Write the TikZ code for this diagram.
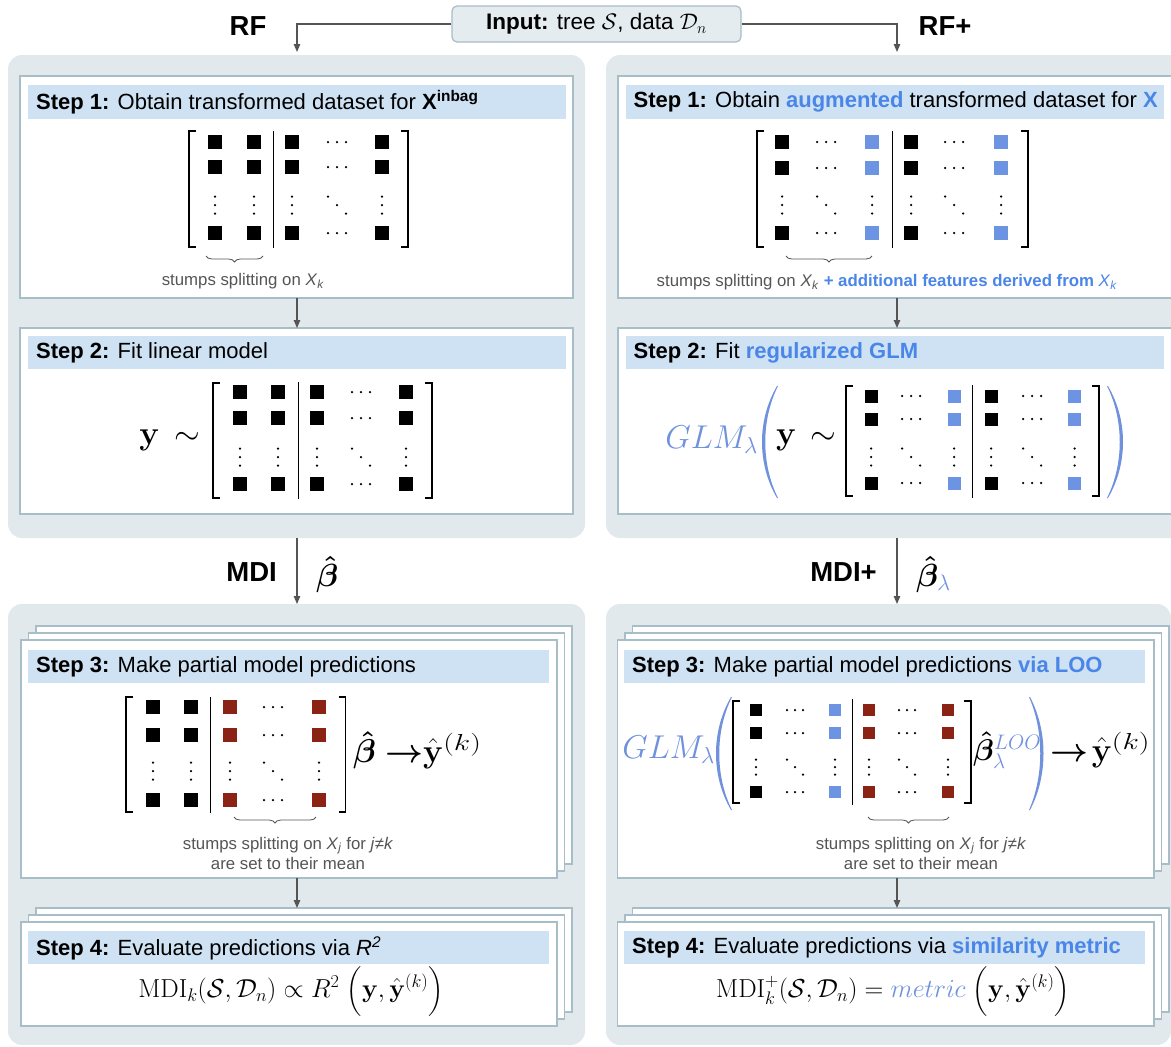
\RequirePackage{fix-cm}
\documentclass[tikz,border=0pt]{standalone}
\usepackage{amsmath,bm,graphicx}
\usepackage[no-math]{fontspec}
\setmainfont{Liberation Sans}
\usetikzlibrary{arrows.meta,decorations.pathreplacing}
\definecolor{panelc}{HTML}{E2E9ED}
\definecolor{boxc}{HTML}{A7BDC7}
\definecolor{hdrc}{HTML}{CFE2F3}
\definecolor{hl}{HTML}{4A86E8}
\definecolor{mathblue}{HTML}{7091DC}
\definecolor{sqblue}{HTML}{6D94E3}
\definecolor{sqred}{HTML}{8B2314}
\definecolor{arrc}{HTML}{555555}
\definecolor{graytext}{HTML}{555555}
\definecolor{inboxc}{HTML}{E4ECF0}
\newcommand\hsq{7}
\newcommand\hsp{9}
\newcommand\vsp{8.5}
\newcommand\drad{1.25pt}
\newcommand\msq[3]{\fill[#3] (#1-\hsq,#2-\hsq) rectangle (#1+\hsq,#2+\hsq);}
\newcommand\hdts[2]{\fill (#1-\hsp,#2) circle[radius=\drad] (#1,#2) circle[radius=\drad] (#1+\hsp,#2) circle[radius=\drad];}
\newcommand\vdts[2]{\fill (#1,#2-\vsp) circle[radius=\drad] (#1,#2) circle[radius=\drad] (#1,#2+\vsp) circle[radius=\drad];}
\newcommand\ddts[2]{\fill (#1-\hsp,#2-\vsp) circle[radius=\drad] (#1,#2) circle[radius=\drad] (#1+\hsp,#2+\vsp) circle[radius=\drad];}
\newcommand\sqcol[6]{\msq{#1}{#3}{#2}\msq{#1}{#4}{#2}\vdts{#1}{#5}\msq{#1}{#6}{#2}}
\newcommand\dtcol[5]{\hdts{#1}{#2}\hdts{#1}{#3}\ddts{#1}{#4}\hdts{#1}{#5}}
\newcommand\brkt[4]{\draw[brk] (#1+7,#3) -- (#1,#3) -- (#1,#4) -- (#1+7,#4); \draw[brk] (#2-7,#3) -- (#2,#3) -- (#2,#4) -- (#2-7,#4);}
\newcommand\dvd[3]{\draw[dvd] (#1,#2) -- (#1,#3);}
\newcommand\pOpen{\mathopen{\hbox{\fontsize{21}{25}\selectfont$\bigg($}}}
\newcommand\pClose{\mathclose{\hbox{\fontsize{21}{25}\selectfont$\bigg)$}}}
\newcommand\supk{^{\scalebox{1.3}[1]{$\scriptstyle(k)$}}}
\begin{document}
\begin{tikzpicture}[x=1pt,y=-1pt,
  panel/.style={fill=panelc, draw=none, rounded corners=14pt, inner sep=0pt, outer sep=0pt},
  wbox/.style={fill=white, draw=boxc, line width=1.4pt, inner sep=0pt, outer sep=0pt},
  hdr/.style={fill=hdrc, draw=none, inner sep=0pt, outer sep=0pt, anchor=north west},
  htext/.style={anchor=west, inner sep=0pt, font=\fontsize{22}{26}\selectfont},
  note/.style={inner sep=0pt, text=graytext, align=center, font=\fontsize{16.8}{20}\selectfont},
  lbl/.style={inner sep=0pt, font=\bfseries\fontsize{27.5}{30}\selectfont},
  mth/.style={inner sep=0pt, font=\fontsize{33}{37}\selectfont},
  arr/.style={draw=arrc, line width=1.3pt, -{Triangle[length=8pt,width=6.5pt]}},
  brk/.style={line width=1.3pt, black},
  dvd/.style={line width=1pt, black},
  brc/.style={draw=graytext, line width=0.8pt, decorate, decoration={brace,mirror,amplitude=6pt}},
  inbox/.style={fill=inboxc, draw=boxc, line width=1.2pt, rounded corners=5pt, inner sep=0pt, font=\fontsize{22.5}{26}\selectfont}]
\useasboundingbox (0,0) rectangle (1171,1047);
\fill[white] (0,0) rectangle (1171,1047);
\clip (0,0) rectangle (1171,1047);
\coordinate (cL) at (297,0);
\coordinate (cR) at (897,0);
% input
\node[inbox, minimum width=289pt, minimum height=36pt] (in) at (596.5,24) {\textbf{Input:} tree $\mathcal{S}$, data $\mathcal{D}_n$};
\node[lbl] (rf) at (248,26) {RF};
\node[lbl] (rfp) at (945,26) {RF+};
% panels
\node[panel, minimum width=577pt, minimum height=483pt] (pTL) at (296.5,296.5) {};
\node[panel, minimum width=594pt, minimum height=483pt] (pTR) at (903,296.5) {};
\node[panel, minimum width=577pt, minimum height=441pt] (pBL) at (296.5,824.5) {};
\node[panel, minimum width=565pt, minimum height=441pt] (pBR) at (888.5,824.5) {};
% ---------- left top
\node[wbox, minimum width=553pt, minimum height=222pt] (s1L) at (296.5,187) {};
\node[hdr, minimum width=538pt, minimum height=34pt] (h1L) at (28,85) {};
\node[htext] (t1L) at (36,102) {\textbf{Step 1:} Obtain transformed dataset for \textbf{X\textsuperscript{inbag}}};
\sqcol{215}{black}{142}{167}{205}{233}
\sqcol{254}{black}{142}{167}{205}{233}
\dvd{273}{131}{248}
\sqcol{292}{black}{142}{167}{205}{233}
\dtcol{337}{142}{167}{205}{233}
\sqcol{382}{black}{142}{167}{205}{233}
\brkt{189}{408}{131}{247}
\draw[brc] (206,256) -- (263,256);
\node[note] (n1L) at (243,281) {stumps splitting on \textit{X}\textsubscript{\textit{k}}};
\node[wbox, minimum width=553pt, minimum height=186pt] (s2L) at (296.5,421) {};
\node[hdr, minimum width=538pt, minimum height=33pt] (h2L) at (28,336) {};
\node[htext] (t2L) at (36,353) {\textbf{Step 2:} Fit linear model};
\node[mth, anchor=east] (y2L) at (200,440) {$\mathbf{y}\mkern3mu\sim$};
\sqcol{240}{black}{392}{418}{457}{484}
\sqcol{278}{black}{392}{418}{457}{484}
\dvd{298}{382}{499}
\sqcol{317}{black}{392}{418}{457}{484}
\dtcol{361}{392}{418}{457}{484}
\sqcol{406}{black}{392}{418}{457}{484}
\brkt{213}{432}{383}{498}
% ---------- right top
\node[wbox, minimum width=567pt, minimum height=222pt] (s1R) at (901.5,187) {};
\node[hdr, minimum width=538.5pt, minimum height=34pt] (h1R) at (625.5,85) {};
\node[htext] (t1R) at (633.5,102) {\textbf{Step 1:} Obtain \textcolor{hl}{\textbf{augmented}} transformed dataset for \textcolor{hl}{\textbf{X}}};
\sqcol{782}{black}{142}{168}{205}{233}
\dtcol{826}{142}{168}{205}{233}
\sqcol{872}{sqblue}{142}{168}{205}{233}
\dvd{892}{131}{248}
\sqcol{911}{black}{142}{168}{205}{233}
\dtcol{954}{142}{168}{205}{233}
\sqcol{1001}{sqblue}{142}{168}{205}{233}
\brkt{757}{1028}{131}{247}
\draw[brc] (786,256) -- (872,256);
\node[note] (n1R) at (887,282) {stumps splitting on \textit{X}\textsubscript{\textit{k}} \textcolor{hl}{\textbf{+ additional features derived from} \textit{X}\textsubscript{\textit{k}}}};
\node[wbox, minimum width=567pt, minimum height=186pt] (s2R) at (901.5,421) {};
\node[hdr, minimum width=538.5pt, minimum height=33pt] (h2R) at (625.5,336) {};
\node[htext] (t2R) at (633.5,353) {\textbf{Step 2:} Fit \textcolor{hl}{\textbf{regularized GLM}}};
\node[mth, anchor=east, text=mathblue] (g2R) at (758,440) {$GLM_\lambda$};
\fill[mathblue] (777,386) .. controls (757,420) and (757,464) .. (777,498) -- (778,498) .. controls (761,464) and (761,420) .. (778,386) -- cycle;
\node[mth, anchor=west] (y2R) at (776,440) {$\mathbf{y}\mkern3mu\sim$};
\def\hsq{6.5}
\sqcol{871}{black}{396}{419}{457}{483}
\dtcol{911}{396}{419}{457}{483}
\sqcol{954}{sqblue}{396}{419}{457}{483}
\dvd{972.5}{385}{498}
\sqcol{991}{black}{396}{419}{457}{483}
\dtcol{1032}{396}{419}{457}{483}
\sqcol{1074.5}{sqblue}{396}{419}{457}{483}
\brkt{846}{1099}{386}{496}
\fill[mathblue] (1108,386) .. controls (1128,420) and (1128,464) .. (1108,498) -- (1107,498) .. controls (1124,464) and (1124,420) .. (1107,386) -- cycle;
% ---------- middle arrows labels
\node[lbl, anchor=east] (mdi) at (277,572) {MDI};
\node[mth, anchor=west, font=\fontsize{32}{36}\selectfont] (bL) at (316,574) {$\bm{\hat\beta}$};
\node[lbl, anchor=east] (mdip) at (877,572) {MDI+};
\node[mth, anchor=west, font=\fontsize{32}{36}\selectfont] (bR) at (916,574) {$\bm{\hat\beta}_{\textcolor{mathblue}{\lambda}}$};
% ---------- left bottom
\def\hsq{7}
\node[wbox, minimum width=536pt, minimum height=238pt] (s3Lb) at (304,745) {};
\node[wbox, minimum width=536pt, minimum height=238pt] (s3Lm) at (296.5,752) {};
\node[wbox, minimum width=536pt, minimum height=238pt] (s3Lf) at (289,759) {};
\node[hdr, minimum width=521pt, minimum height=33pt] (h3L) at (28,650) {};
\node[htext] (t3L) at (36,667) {\textbf{Step 3:} Make partial model predictions};
\sqcol{153}{black}{707}{735}{771}{800}
\sqcol{191}{black}{707}{735}{771}{800}
\dvd{210.5}{697}{813}
\sqcol{230}{sqred}{707}{735}{771}{800}
\dtcol{273}{707}{735}{771}{800}
\sqcol{319}{sqred}{707}{735}{771}{800}
\brkt{126}{345.5}{697}{812}
\node[mth, anchor=west] (p3L) at (353,750) {$\bm{\hat\beta}\;{\bm{\rightarrow}}\hat{\mathbf{y}}\supk$};
\draw[brc] (234,817) -- (316,817);
\node[note] (n3L) at (288,853) {stumps splitting on \textit{X}\textsubscript{\textit{j}} for \textit{j}≠\textit{k}\\are set to their mean};
\node[wbox, minimum width=536pt, minimum height=104pt] (s4Lb) at (304,960) {};
\node[wbox, minimum width=536pt, minimum height=104pt] (s4Lm) at (296.5,967) {};
\node[wbox, minimum width=536pt, minimum height=104pt] (s4Lf) at (289,974) {};
\node[hdr, minimum width=521pt, minimum height=33pt] (h4L) at (28,931) {};
\node[htext] (t4L) at (36,948) {\textbf{Step 4:} Evaluate predictions via \textit{R\textsuperscript{2}}};
\node[mth, font=\fontsize{26}{30}\selectfont] (f4L) at (291,992) {$\mathrm{MDI}_k(\mathcal{S},\mathcal{D}_n)\propto R^2\;\pOpen\mathbf{y},\hat{\mathbf{y}}^{(k)}\pClose$};
% ---------- right bottom
\node[wbox, minimum width=536.5pt, minimum height=238pt] (s3Rb) at (900.75,745) {};
\node[wbox, minimum width=536.5pt, minimum height=238pt] (s3Rm) at (893.25,752) {};
\node[wbox, minimum width=536.5pt, minimum height=238pt] (s3Rf) at (885.75,759) {};
\node[hdr, minimum width=521pt, minimum height=33pt] (h3R) at (624,650) {};
\node[htext] (t3R) at (632,667) {\textbf{Step 3:} Make partial model predictions \textcolor{hl}{\textbf{via LOO}}};
\node[mth, anchor=east, text=mathblue] (g3R) at (715,750) {$GLM_\lambda$};
\fill[mathblue] (731,697) .. controls (711,731) and (711,776) .. (731,810) -- (732,810) .. controls (715,776) and (715,731) .. (732,697) -- cycle;
\def\hsq{6.25}\def\hsp{8}\def\vsp{7.5}
\sqcol{756}{black}{710}{733}{767}{792}
\dtcol{795}{710}{733}{767}{792}
\sqcol{835}{sqblue}{710}{733}{767}{792}
\dvd{852}{699}{805}
\sqcol{869}{sqred}{710}{733}{767}{792}
\dtcol{907}{710}{733}{767}{792}
\sqcol{948}{sqred}{710}{733}{767}{792}
\brkt{733}{971}{701}{803}
\node[mth, anchor=west, font=\fontsize{30}{34}\selectfont] (b3R) at (973,750) {$\bm{\hat\beta}^{\textcolor{mathblue}{LOO}}_{\textcolor{mathblue}{\lambda}}$};
\fill[mathblue] (1030,697) .. controls (1048,731) and (1048,776) .. (1030,810) -- (1029,810) .. controls (1044,776) and (1044,731) .. (1029,697) -- cycle;
\node[mth, anchor=west] (p3R) at (1050,750) {${\bm{\rightarrow}}\mkern2mu\hat{\mathbf{y}}\supk$};
\draw[brc] (868,817) -- (949,817);
\node[note] (n3R) at (921,853) {stumps splitting on \textit{X}\textsubscript{\textit{j}} for \textit{j}≠\textit{k}\\are set to their mean};
\node[wbox, minimum width=536.5pt, minimum height=104pt] (s4Rb) at (900.75,960) {};
\node[wbox, minimum width=536.5pt, minimum height=104pt] (s4Rm) at (893.25,967) {};
\node[wbox, minimum width=536.5pt, minimum height=104pt] (s4Rf) at (885.75,974) {};
\node[hdr, minimum width=521pt, minimum height=33pt] (h4R) at (624,931) {};
\node[htext] (t4R) at (632,948) {\textbf{Step 4:} Evaluate predictions via \textcolor{hl}{\textbf{similarity metric}}};
\node[mth, font=\fontsize{26}{30}\selectfont] (f4R) at (893,992) {$\mathrm{MDI}^+_k(\mathcal{S},\mathcal{D}_n)=\textcolor{mathblue}{metric}\;\pOpen\mathbf{y},\hat{\mathbf{y}}^{(k)}\pClose$};
% ---------- arrows
\draw[arr, shorten >=3pt] (in.west) -| (cL |- pTL.north);
\draw[arr, shorten >=3pt] (in.east) -| (cR |- pTR.north);
\draw[arr] (s1L.south -| cL) -- (s2L.north -| cL);
\draw[arr] (s1R.south -| cR) -- (s2R.north -| cR);
\draw[arr] (pTL.south -| cL) -- (pBL.north -| cL);
\draw[arr] (pTR.south -| cR) -- (pBR.north -| cR);
\draw[arr] (s3Lf.south -| cL) -- (s4Lb.north -| cL);
\draw[arr] (s3Rf.south -| cR) -- (s4Rb.north -| cR);
\end{tikzpicture}
\end{document}
